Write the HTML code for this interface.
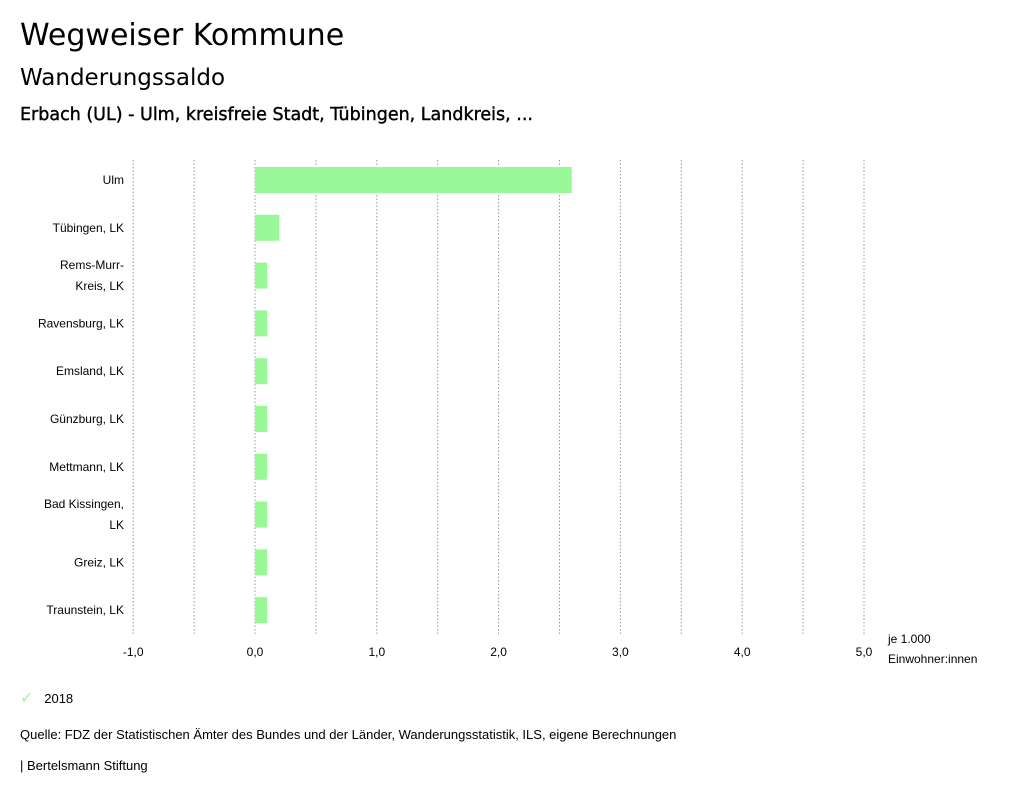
<!DOCTYPE html>
<html><head><meta charset="utf-8"><style>
body{margin:0;background:#fff;font-family:"Liberation Sans",sans-serif;color:#000;width:1024px;height:799px;overflow:hidden;position:relative}
.t{position:absolute;white-space:nowrap}
</style></head><body>
<div class="t" style="left:20px;top:18px;font-size:30px;font-family:'DejaVu Sans',sans-serif">Wegweiser Kommune</div>
<div class="t" style="left:20px;top:65px;font-size:23px;font-family:'DejaVu Sans',sans-serif">Wanderungssaldo</div>
<div class="t" style="left:20px;top:105px;font-size:17.5px;font-family:'DejaVu Sans',sans-serif;-webkit-text-stroke:0.4px #000">Erbach (UL) - Ulm, kreisfreie Stadt, Tübingen, Landkreis, ...</div>
<svg id="chart" width="1024" height="799" style="position:absolute;left:0;top:0" font-family="Liberation Sans, sans-serif"></svg>
<div class="t" style="left:20px;top:688px;font-size:13px"><span style="color:#98f898;font-size:16px">✓</span>&nbsp;&nbsp;&nbsp;2018</div>
<div class="t" style="left:20px;top:727px;font-size:13px">Quelle: FDZ der Statistischen Ämter des Bundes und der Länder, Wanderungsstatistik, ILS, eigene Berechnungen</div>
<div class="t" style="left:20px;top:758px;font-size:13px">| Bertelsmann Stiftung</div>
<script>
const categories=[["Ulm"],["Tübingen, LK"],["Rems-Murr-","Kreis, LK"],["Ravensburg, LK"],["Emsland, LK"],["Günzburg, LK"],["Mettmann, LK"],["Bad Kissingen,","LK"],["Greiz, LK"],["Traunstein, LK"]];
const values=[2.6,0.2,0.1,0.1,0.1,0.1,0.1,0.1,0.1,0.1];
const tickValues=[-1,0,1,2,3,4,5];
const tickLabels=["-1,0","0,0","1,0","2,0","3,0","4,0","5,0"];
const NS="http://www.w3.org/2000/svg";
const svg=document.getElementById('chart');
const x=v=>255+(v)*121.8;
const rowY=i=>156+i*47.8;
function mk(tag,attrs){const e=document.createElementNS(NS,tag);for(const k in attrs)e.setAttribute(k,attrs[k]);svg.appendChild(e);return e;}
for(let g=-1;g<=6;g+=0.5){
  if(x(g)>880)break;
  const l=mk('line',{x1:x(g),x2:x(g),y1:160,y2:636,stroke:'#999','stroke-dasharray':'1.5,2','stroke-width':1});
  
  
}
tickValues.forEach((v,i)=>{
  const t=mk('text',{x:x(v),y:656,'font-size':12,'text-anchor':'middle'});
  t.textContent=tickLabels[i];
  
  
});
const u1=mk('text',{x:888,y:643,'font-size':12});u1.textContent='je 1.000';


const u2=mk('text',{x:888,y:663,'font-size':12});u2.textContent='Einwohner:innen';


values.forEach((v,i)=>{
  const yc=rowY(i)+24;
  const r=mk('rect',{x:Math.min(x(0),x(v)),y:yc-13,width:Math.abs(x(v)-x(0)),height:26,fill:'#98f898'});
  
  
  const lines=categories[i];
  lines.forEach((s,j)=>{
    const t=mk('text',{x:124,y:yc+4+(j-(lines.length-1)/2)*21,'font-size':12,'text-anchor':'end'});
    t.textContent=s;
    
    
  });
});
</script>
</body></html>
